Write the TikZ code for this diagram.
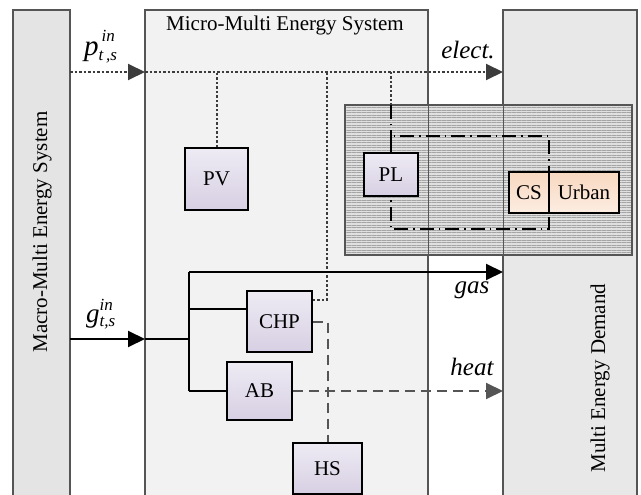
\documentclass[tikz,border=0pt]{standalone}
\usepackage{fontspec}
\setmainfont{Liberation Serif}
\usetikzlibrary{arrows.meta,patterns.meta}
\definecolor{edgegray}{HTML}{555555}
\definecolor{macrofill}{HTML}{E4E4E4}
\definecolor{microfill}{HTML}{F2F2F2}
\definecolor{demandfill}{HTML}{E8E8E8}
\definecolor{hatchfill}{HTML}{E0E0E0}
\definecolor{hatchline}{HTML}{A4A4A4}
\definecolor{compTop}{HTML}{EEEBF4}
\definecolor{compBot}{HTML}{D7CFE3}
\definecolor{csTop}{HTML}{F8D8C0}
\definecolor{csBot}{HTML}{FCEDE2}
\definecolor{dotgray}{HTML}{3C3C3C}
\begin{document}
\begin{tikzpicture}[x=1pt,y=-1pt,
  txt/.style={font=\fontsize{21}{24}\selectfont, inner sep=0pt},
  itlabel/.style={font=\fontsize{25}{28}\selectfont\itshape, inner sep=0pt},
  panelborder/.style={draw=edgegray, line width=1.6pt},
  comp/.style={draw=black, line width=1.5pt, top color=compTop, bottom color=compBot,
    font=\fontsize{21}{24}\selectfont, inner sep=0pt},
  csbox/.style={draw=black, line width=1.5pt, top color=csTop, bottom color=csBot,
    font=\fontsize{21}{24}\selectfont, inner sep=0pt},
  tip/.style={-{Triangle[length=17pt,width=16pt]}},
  elecline/.style={draw=dotgray, line width=2pt, dash pattern=on 2.5pt off 2pt},
  gasline/.style={draw=black, line width=2pt},
  heatline/.style={draw=edgegray, line width=2pt, dash pattern=on 10pt off 6pt},
  dashdot/.style={draw=black, line width=2.3pt, dash pattern=on 14pt off 5pt on 1.5pt off 5pt},
]
\useasboundingbox (0,0) rectangle (641,495);
% panels
\fill[macrofill] (13,10) rectangle (70,495);
\draw[panelborder] (13,495) -- (13,10) -- (70,10) -- (70,495);
\fill[microfill] (145,10) rectangle (428,495);
\draw[panelborder] (145,495) -- (145,10) -- (428,10) -- (428,495);
\fill[demandfill] (503,10) rectangle (637,495);
\draw[panelborder] (503,495) -- (503,10) -- (637,10) -- (637,495);
% hatched region
\fill[hatchfill] (345,105) rectangle (632,255);
\fill[pattern={Lines[angle=0,distance=2.5pt,line width=0.9pt]}, pattern color=hatchline] (345,105) rectangle (632,255);
\draw[edgegray, line width=0.9pt] (428,105) -- (428,255);
\draw[edgegray, line width=0.9pt] (503,105) -- (503,255);
\draw[panelborder] (345,105) rectangle (632,255);
% titles
\node[txt] (microtitle) at (285,25) {Micro-Multi Energy System};
\node[txt, rotate=90] (macrotitle) at (42,232) {Macro-Multi Energy System};
\node[txt, rotate=90] (demandtitle) at (600,378) {Multi Energy Demand};
% components
\node[comp, minimum width=63pt, minimum height=62pt] (pv) at (216.5,179) {PV};
\node[comp, minimum width=54pt, minimum height=43pt] (pl) at (391,174.5) {PL};
\node[csbox, minimum width=40pt, minimum height=41pt] (cs) at (529,192.5) {CS};
\node[csbox, minimum width=70pt, minimum height=41pt] (urban) at (584,192.5) {Urban};
\node[comp, minimum width=65pt, minimum height=61pt] (chp) at (279.5,321.5) {CHP};
\node[comp, minimum width=65pt, minimum height=58pt] (ab) at (259.5,391) {AB};
\node[comp, minimum width=69pt, minimum height=51pt] (hs) at (327.5,468.5) {HS};
% coordinates
\coordinate (elin) at (70,72);
\coordinate (elmid) at (145,72);
\coordinate (elout) at (503,72);
\coordinate (gin) at (70,339);
\coordinate (gmid) at (145,339);
\coordinate (busT) at (189,272);
\coordinate (busM) at (189,339);
\coordinate (busC) at (189,309);
\coordinate (busB) at (189,391);
\coordinate (gasout) at (503,272);
\coordinate (heatout) at (503,391);
\coordinate (chpel) at (327,72);
\coordinate (plel) at (391,72);
\coordinate (hatchtop) at (391,105);
\coordinate (ddTL) at (391,136);
\coordinate (ddTR) at (549,136);
\coordinate (ddBR) at (549,229);
\coordinate (ddBL) at (391,229);
% electricity
\draw[elecline, tip, dotgray] (elin) -- (elmid);
\draw[elecline, tip, dotgray] (elmid) -- (elout);
\draw[elecline] (pv.north) -- (pv.north |- elmid);
\draw[elecline] ([yshift=22pt]chp.east) -| (chpel);
\draw[elecline] (plel) -- (hatchtop);
\draw[dashdot] (hatchtop) -- (ddTL);
% dash-dot loop around PL / CS
\draw[dashdot] (pl.north) -- (ddTL) -- (ddTR) -- (ddBR) -- (ddBL) -- (pl.south);
\draw[black, line width=1.8pt] (ddTL) -- (pl.north);
% gas
\draw[gasline, tip] (gin) -- (gmid);
\draw[gasline] (gmid) -- (busM);
\draw[gasline] (busB) -- (busT);
\draw[gasline, tip] (busT) -- (gasout);
\draw[gasline] (busC) -- ([yshift=12.5pt]chp.west);
\draw[gasline] (busB) -- (ab.west);
% heat
\draw[heatline, tip, edgegray] (ab.east) -- (heatout);
\draw[heatline] (chp.east) -| (hs.north);
% redraw boxes on top of lines
\node[comp, minimum width=54pt, minimum height=43pt] at (pl) {PL};
\node[csbox, minimum width=40pt, minimum height=41pt] at (cs) {CS};
\node[csbox, minimum width=70pt, minimum height=41pt] at (urban) {Urban};
% labels
\node[inner sep=0pt, anchor=base west] (plab) at (84,56)
  {\fontsize{29}{30}\selectfont\itshape p\fontsize{17}{18}\selectfont\rlap{\raisebox{14pt}{\,in}}\raisebox{-5pt}{t\,,s}};
\node[inner sep=0pt, anchor=base west] (glab) at (86,322)
  {\fontsize{27}{28}\selectfont\itshape g\fontsize{17}{18}\selectfont\rlap{\raisebox{12pt}{in}}\raisebox{-4pt}{t,s}};
\node[itlabel] (ellab) at (468,50) {elect.};
\node[itlabel] (gaslab) at (472,290) {gas};
\node[itlabel] (heatlab) at (472,367) {heat};
\end{tikzpicture}
\end{document}
